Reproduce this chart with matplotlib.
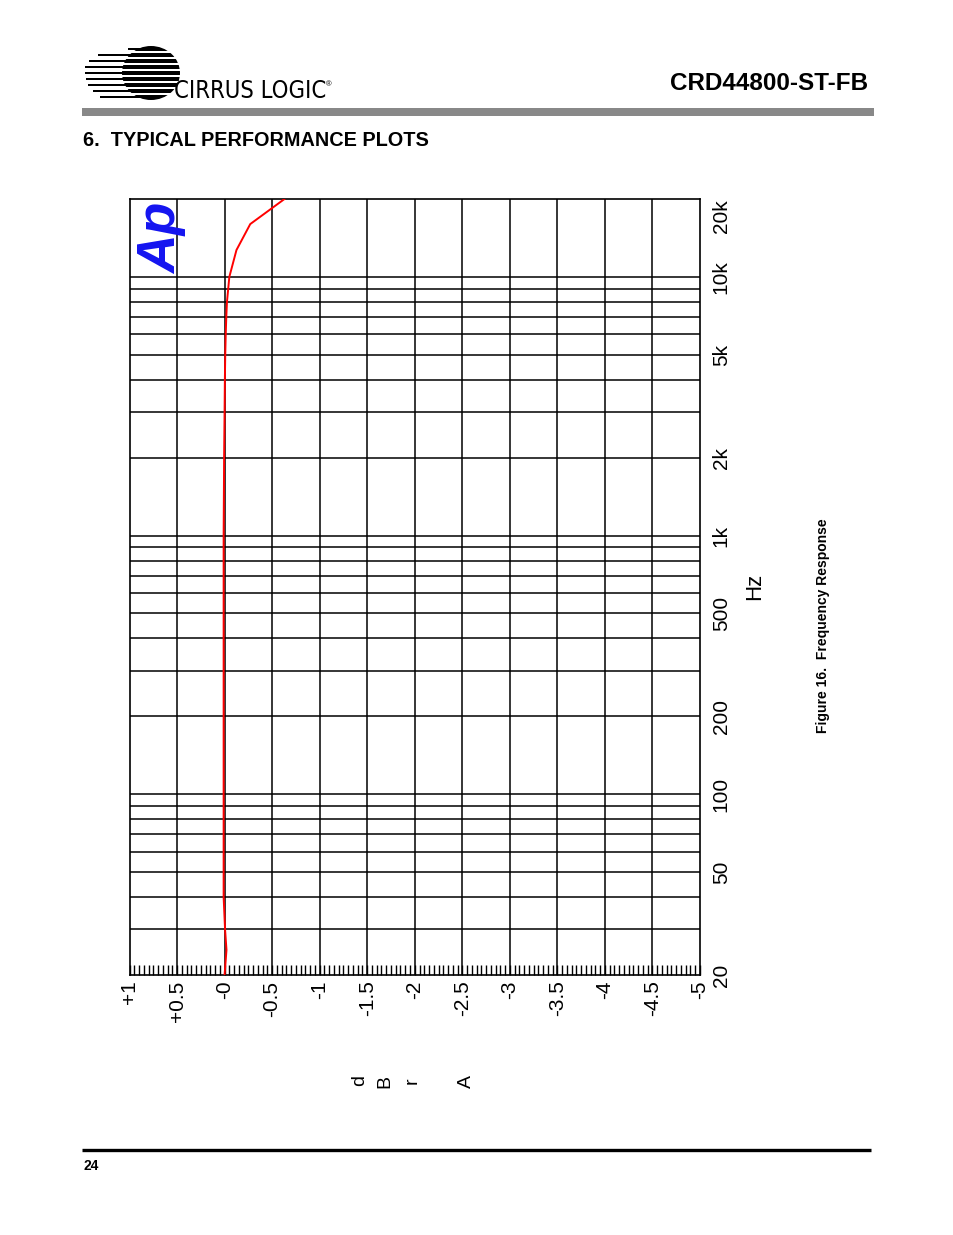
import numpy as np
import matplotlib
matplotlib.use("Agg")
import matplotlib.pyplot as plt
from matplotlib.patches import Rectangle, Ellipse
from matplotlib.ticker import NullLocator
import matplotlib.font_manager as fm

# ---------------- data ----------------
freq_hz = [20, 25, 30, 40, 50, 100, 200, 500, 1000, 2000, 3000, 4000, 5000,
           6000, 7000, 8000, 10000, 12700, 16000, 20000]
level_dbr = [0.0, -0.02, -0.005, 0.01, 0.01, 0.01, 0.01, 0.01, 0.01, 0.005,
             0.0, -0.003, -0.007, -0.012, -0.018, -0.025, -0.05, -0.125,
             -0.27, -0.63]

db_ticks = [1, 0.5, 0, -0.5, -1, -1.5, -2, -2.5, -3, -3.5, -4, -4.5, -5]
db_labels = ['+1', '+0.5', '-0', '-0.5', '-1', '-1.5', '-2', '-2.5', '-3',
             '-3.5', '-4', '-4.5', '-5']
freq_ticks = [20, 50, 100, 200, 500, 1000, 2000, 5000, 10000, 20000]
freq_labels = ['20', '50', '100', '200', '500', '1k', '2k', '5k', '10k', '20k']

# ---------------- page ----------------
W, H = 954, 1235
fig = plt.figure(figsize=(W / 100, H / 100), dpi=100)
fig.patch.set_facecolor('white')

names = {f.name for f in fm.fontManager.ttflist}
SANS = 'Liberation Sans' if 'Liberation Sans' in names else 'DejaVu Sans'

narrow_file = None
for f in fm.fontManager.ttflist:
    fn = f.fname.lower()
    if ('narrow' in fn or 'condensed' in fn) and 'bold' not in fn \
            and 'italic' not in fn and 'oblique' not in fn and 'mono' not in fn \
            and 'serif' not in fn:
        if narrow_file is None or 'liberation' in fn:
            narrow_file = f.fname
if narrow_file:
    logo_font = fm.FontProperties(fname=narrow_file, size=18)
    if 'dejavu' in narrow_file.lower():
        logo_font.set_size(17)
else:
    logo_font = fm.FontProperties(family=SANS, size=15)


def px(x, y):
    return x / W, 1 - y / H


# header logo (Cirrus Logic style)
logo = fig.add_axes([0, 0, 1, 1], zorder=5)
logo.set_xlim(0, W)
logo.set_ylim(H, 0)
logo.axis('off')
cx, cy, r = 151, 73, 27
logo.add_patch(Ellipse((cx, cy), 2 * r + 4, 2 * r, color='black', lw=0))
ys = np.arange(49, 99, 6.0)
starts = [128, 98, 89, 85, 85, 86, 88, 93, 100]
for y0, xs in zip(ys, starts):
    logo.add_patch(Rectangle((xs, y0 - 1.3), cx - xs, 2.6, color='black', lw=0))
for y0 in ys[:-1] + 3:
    logo.add_patch(Rectangle((cx - r - 4, y0 - 0.8), 2 * r + 10, 1.6,
                             color='white', lw=0))

logo.add_patch(Rectangle((82, 108), 792, 8, color='#888888', lw=0))
logo.plot([82, 871], [1150, 1150], color='black', lw=2.4, solid_capstyle='butt')

fig.text(*px(174, 91), 'CIRRUS LOGIC', fontproperties=logo_font,
         ha='left', va='center', color='black', zorder=6)
fig.text(*px(326, 85), '®', family=SANS, fontsize=5.5, ha='left', va='center')
fig.text(*px(868, 83), 'CRD44800-ST-FB', family=SANS, fontweight='bold',
         fontsize=17.5, ha='right', va='center')
fig.text(*px(83, 141), '6.  TYPICAL PERFORMANCE PLOTS', family=SANS,
         fontweight='bold', fontsize=14.3, ha='left', va='center')
fig.text(*px(83, 1166), '24', family=SANS, fontweight='bold', fontsize=10,
         ha='left', va='center')
fig.text(*px(823, 626), 'Figure 16.  Frequency Response', family=SANS,
         fontweight='bold', fontsize=10, rotation=90, ha='center', va='center')

# ---------------- chart ----------------
L, R, T, B = 129.5, 700, 199, 975
ax = fig.add_axes([L / W, 1 - B / H, (R - L) / W, (B - T) / H])
ax.set_xlim(1, -5)
ax.set_yscale('log')
ax.set_ylim(20, 20000)

grid_lw = 1.1
for d in db_ticks[1:-1]:
    ax.axvline(d, color='black', lw=grid_lw, zorder=1)
grid_freqs = [f * m for m in (10, 100, 1000) for f in range(1, 10)] + [10000]
for f in grid_freqs:
    if f > 20:
        ax.axhline(f, color='black', lw=grid_lw, zorder=1)

ax.plot(level_dbr, freq_hz, color='#ff0000', lw=1.4, zorder=3)

for s in ax.spines.values():
    s.set_linewidth(1.2)

ax.set_xticks(db_ticks)
ax.set_xticklabels(db_labels)
ax.set_xticks(np.arange(-5, 1.0001, 0.05), minor=True)
ax.tick_params(axis='x', which='both', direction='in', length=7.5, width=1.0,
               top=False, pad=4)
for lbl in ax.get_xticklabels():
    lbl.set_rotation(90)
    lbl.set_family(SANS)
    lbl.set_fontsize(15)
    lbl.set_va('top')
    lbl.set_ha('center')

ax.yaxis.set_minor_locator(NullLocator())
ax.set_yticks(freq_ticks)
ax.set_yticklabels(freq_labels)
ax.yaxis.tick_right()
ax.tick_params(axis='y', which='both', length=0, pad=8.5)
ylbls = ax.get_yticklabels()
for i, lbl in enumerate(ylbls):
    lbl.set_rotation(90)
    lbl.set_family(SANS)
    lbl.set_fontsize(15)
    lbl.set_ha('left')
    lbl.set_va('top' if i == len(ylbls) - 1 else 'center')
ax.yaxis.set_minor_locator(NullLocator())

fig.text(*px(755, 586), 'Hz', family=SANS, fontsize=16, rotation=90,
         ha='center', va='center')
for ch, x in zip(['d', 'B', 'r', 'A'], [360, 385, 412, 466]):
    fig.text(*px(x, 1081), ch, family=SANS, fontsize=14, rotation=90,
             ha='center', va='center')

ax.text(0.058, (B - 238) / (B - T), 'Ap', transform=ax.transAxes, family=SANS,
        fontweight='bold', fontstyle='italic', fontsize=38.5, color='#1414f0',
        rotation=90, ha='center', va='center', zorder=4)

fig.savefig('out.png', dpi=100, facecolor='white')
